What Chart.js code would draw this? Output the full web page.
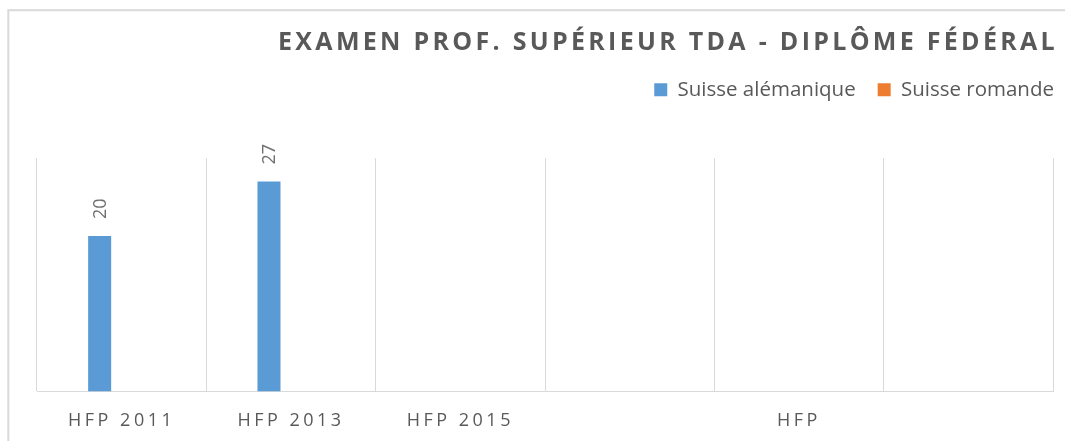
<!DOCTYPE html>
<html>
<head>
<meta charset="utf-8">
<script src="https://cdn.jsdelivr.net/npm/chart.js@4/dist/chart.umd.min.js"></script>
<style>
  html, body { margin: 0; padding: 0; background: #ffffff; }
  #wrap { width: 1065px; height: 441px; }
</style>
</head>
<body>
<div id="wrap"><canvas id="c" width="1065" height="441"></canvas></div>
<script>
const titleText = 'EXAMEN PROF. SUPÉRIEUR TDA - DIPLÔME FÉDÉRAL';
const categories = ['HFP 2011', 'HFP 2013', 'HFP 2015', '', 'HFP', ''];
const seriesNames = ['Suisse alémanique', 'Suisse romande'];
const alemanique = [20, 27, null, null, null, null];
const romande = [null, null, null, null, null, null];

const TITLE_SIZE = 25, TICK_SIZE = 18, LEGEND_SIZE = 20.5, LABEL_SIZE = 18;
let noSpacing = false;

const shiftDraw = (chart, obj, method, dx, dy) => {
  if (!obj || obj['__shifted_' + method]) return;
  obj['__shifted_' + method] = true;
  const orig = obj[method].bind(obj);
  obj[method] = function (area) {
    const ctx = chart.ctx;
    ctx.save();
    ctx.translate(dx, dy);
    orig(area);
    ctx.restore();
  };
};

// letter spacing depending on the text being drawn
const spacingPlugin = {
  id: 'spacing',
  beforeInit(chart) {
    const ctx = chart.ctx;
    if (ctx.__patched) return;
    ctx.__patched = true;
    const origFill = ctx.fillText.bind(ctx);
    const origMeasure = ctx.measureText.bind(ctx);
    const pick = () => {
      if (noSpacing) return '0px';
      const f = ctx.font;
      if (f.indexOf(TITLE_SIZE + 'px') >= 0 && f.indexOf('bold') >= 0) return '3.3px';
      if (f.indexOf(TICK_SIZE + 'px') >= 0) return '3.5px';
      return '0px';
    };
    ctx.fillText = function (t, x, y, m) {
      ctx.letterSpacing = pick();
      if (m === undefined) origFill(t, x, y); else origFill(t, x, y, m);
      ctx.letterSpacing = '0px';
    };
    ctx.measureText = function (t) {
      ctx.letterSpacing = pick();
      const r = origMeasure(t);
      ctx.letterSpacing = '0px';
      return r;
    };
  },
  beforeDraw(chart) {
    shiftDraw(chart, chart.titleBlock, 'draw', 5, 0);
    shiftDraw(chart, chart.legend, 'draw', 23, 0);
    shiftDraw(chart, chart.scales.x, 'drawLabels', 0, 2);
  }
};

const framePlugin = {
  id: 'frame',
  beforeDraw(chart) {
    const ctx = chart.ctx;
    ctx.save();
    ctx.strokeStyle = '#d9d9d9';
    ctx.lineWidth = 2;
    ctx.strokeRect(8.3, 10.2, 3000, 3000);
    ctx.restore();
  }
};

const valueLabelPlugin = {
  id: 'valueLabels',
  afterDatasetsDraw(chart) {
    const ctx = chart.ctx;
    noSpacing = true;
    chart.data.datasets.forEach((ds, di) => {
      const meta = chart.getDatasetMeta(di);
      if (meta.hidden) return;
      meta.data.forEach((bar, i) => {
        const v = ds.data[i];
        if (v === null || v === undefined) return;
        ctx.save();
        ctx.translate(bar.x, bar.y - 17);
        ctx.rotate(-Math.PI / 2);
        ctx.font = LABEL_SIZE + 'px "Open Sans"';
        ctx.fillStyle = '#6f6f6f';
        ctx.textAlign = 'left';
        ctx.textBaseline = 'middle';
        ctx.fillText(String(v), 0, 1);
        ctx.restore();
      });
    });
    noSpacing = false;
  }
};

new Chart(document.getElementById('c'), {
  type: 'bar',
  data: {
    labels: categories,
    datasets: [
      { label: seriesNames[0], data: alemanique, backgroundColor: '#5b9bd5', borderWidth: 0,
        barPercentage: 0.523, categoryPercentage: 0.52 },
      { label: seriesNames[1], data: romande, backgroundColor: '#ed7d31', borderWidth: 0,
        barPercentage: 0.523, categoryPercentage: 0.52 }
    ]
  },
  options: {
    responsive: false,
    devicePixelRatio: 1,
    animation: false,
    layout: { padding: { left: 37, right: 12, top: 0, bottom: -6 } },
    plugins: {
      title: {
        display: true,
        text: titleText,
        align: 'end',
        color: '#595959',
        font: { family: '"Open Sans"', size: TITLE_SIZE, weight: 'bold' },
        padding: { top: 27.5, bottom: 0 }
      },
      subtitle: {
        display: true,
        text: ' ',
        weight: 500,
        color: 'rgba(0,0,0,0)',
        font: { size: 1 },
        padding: { top: 0, bottom: 47 }
      },
      legend: {
        display: true,
        position: 'top',
        align: 'end',
        labels: {
          color: '#595959',
          font: { family: '"Open Sans"', size: LEGEND_SIZE },
          boxWidth: 13,
          boxHeight: 13,
          padding: 22
        }
      },
      tooltip: { enabled: false }
    },
    scales: {
      x: {
        grid: { display: true, offset: true, color: '#d9d9d9', lineWidth: 1, drawTicks: false },
        border: { display: true, color: '#d9d9d9', width: 1 },
        ticks: {
          color: '#595959',
          font: { family: '"Open Sans"', size: TICK_SIZE },
          maxRotation: 0, minRotation: 0, autoSkip: false, padding: 17
        }
      },
      y: {
        display: false,
        min: 0,
        max: 30,
        grid: { display: false }
      }
    }
  },
  plugins: [spacingPlugin, framePlugin, valueLabelPlugin]
});
</script>
</body>
</html>
